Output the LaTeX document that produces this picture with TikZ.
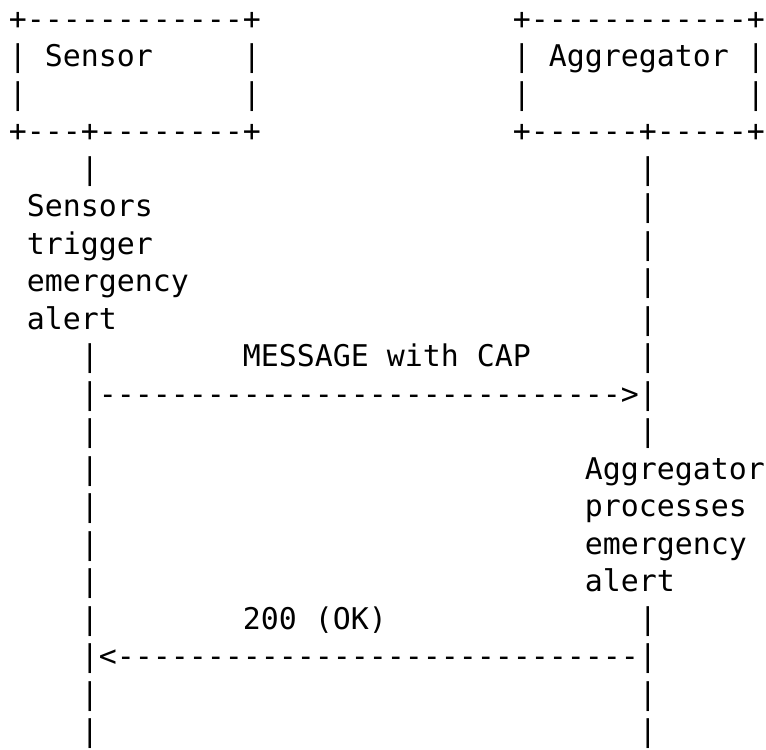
\documentclass[tikz,border=0pt]{standalone}
\usepackage{fontspec}
\newfontfamily\asciifont{DejaVu Sans Mono}[Ligatures=TeXOff]

\tikzset{
  ascii/.style={font=\asciifont\fontsize{29.9pt}{37.5pt}\selectfont,
    anchor=base west, inner sep=0pt, outer sep=0pt}
}

\begin{document}
\begin{tikzpicture}[x=18pt, y=-37.5pt]
      \useasboundingbox (-0.5, 0) rectangle (42.06, 20);
      \begin{scope}[yshift=-29.1pt]
      % Draw the boxes
      \node[ascii] (sensTop) at (0, 0) {+------------+};
      \node[ascii] (sensName) at (0, 1) {|~Sensor~~~~~|};
      \node[ascii] (sensPad) at (0, 2) {|~~~~~~~~~~~~|};
      \node[ascii] (sensBot) at (0, 3) {+---+--------+};
      \node[ascii] (aggTop) at (28, 0) {+------------+};
      \node[ascii] (aggName) at (28, 1) {|~Aggregator~|};
      \node[ascii] (aggPad) at (28, 2) {|~~~~~~~~~~~~|};
      \node[ascii] (aggBot) at (28, 3) {+------+-----+};
      % Draw the lifelines
      \foreach \r in {4, 9, 10, ..., 19}
        \node[ascii] (sl\r) at (4, \r) {|};
      \foreach \r in {4, 5, ..., 11, 16, 17, 18, 19}
        \node[ascii] (al\r) at (35, \r) {|};
      % Draw the notes
      \node[ascii] (sNote1) at (1, 5) {Sensors};
      \node[ascii] (sNote2) at (1, 6) {trigger};
      \node[ascii] (sNote3) at (1, 7) {emergency};
      \node[ascii] (sNote4) at (1, 8) {alert};
      \node[ascii] (aNote1) at (32, 12) {Aggregator};
      \node[ascii] (aNote2) at (32, 13) {processes};
      \node[ascii] (aNote3) at (32, 14) {emergency};
      \node[ascii] (aNote4) at (32, 15) {alert};
      % Draw the messages
      \node[ascii] (msgLabel) at (13, 9) {MESSAGE with CAP};
      \node[ascii] (msgArrow) at (5, 10) {----------------------------->};
      \node[ascii] (okLabel) at (13, 16) {200 (OK)};
      \node[ascii] (okArrow) at (5, 17) {<-----------------------------};
      \end{scope}
    \end{tikzpicture}
\end{document}
